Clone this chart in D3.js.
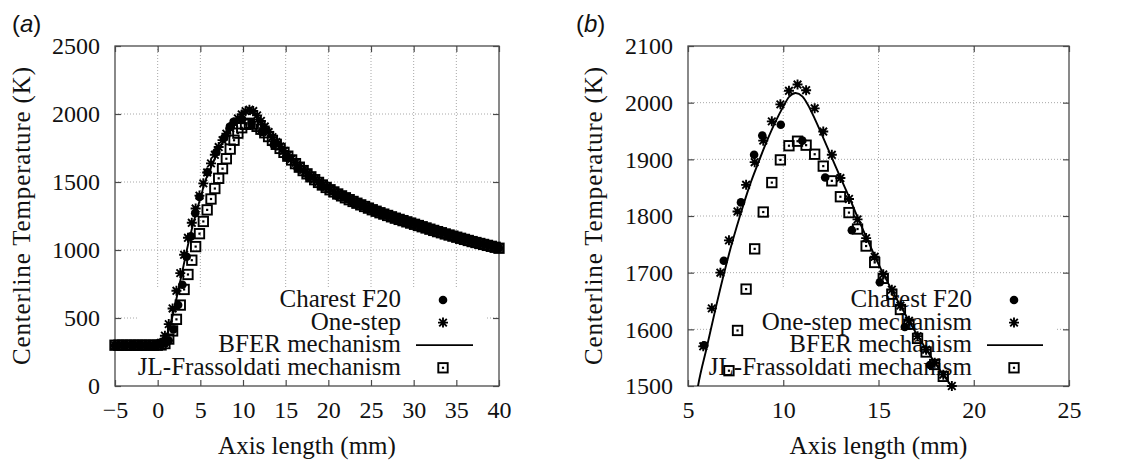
<!DOCTYPE html>
<html>
<head>
<meta charset="utf-8">
<script src="https://cdn.jsdelivr.net/npm/d3@7"></script>
<style>
    body { margin: 0; background: #fff; }
    svg { display: block; }
    text { font-family: "Liberation Serif", "DejaVu Serif", serif; fill: #111; }
</style>
</head>
<body>
<svg id="chart" width="1124" height="464"></svg>
<script>
/************
** data
*************/
// shared axial grid of the one-step and JL-Frassoldati runs (mm)
var gridX = [-5, -4.55, -4.1, -3.65, -3.2, -2.75, -2.3, -1.85, -1.4, -0.95,
    -0.5, -0.05, 0.4, 0.85, 1.3, 1.75, 2.2, 2.65, 3.1, 3.55,
    4.0, 4.45, 4.9, 5.35, 5.8, 6.25, 6.7, 7.15, 7.6, 8.05,
    8.5, 8.95, 9.4, 9.85, 10.3, 10.75, 11.2, 11.65, 12.1, 12.55,
    13.0, 13.45, 13.9, 14.35, 14.8, 15.25, 15.7, 16.15, 16.6, 17.05,
    17.5, 17.95, 18.4, 18.85, 19.3, 19.75, 20.2, 20.65, 21.1, 21.55,
    22.0, 22.45, 22.9, 23.35, 23.8, 24.25, 24.7, 25.15, 25.6, 26.05,
    26.5, 26.95, 27.4, 27.85, 28.3, 28.75, 29.2, 29.65, 30.1, 30.55,
    31.0, 31.45, 31.9, 32.35, 32.8, 33.25, 33.7, 34.15, 34.6, 35.05,
    35.5, 35.95, 36.4, 36.85, 37.3, 37.75, 38.2, 38.65, 39.1, 39.55, 40.0];

var oneStepT = [300, 300, 300, 300, 300, 300, 300, 300, 300, 300,
    300, 302, 318, 370, 455, 570, 700, 830, 965, 1090,
    1200, 1305, 1400, 1490, 1570, 1637, 1700, 1757, 1808, 1855,
    1895, 1933, 1967, 1997, 2021, 2032, 2022, 1990, 1949, 1908,
    1867, 1830, 1794, 1761, 1728, 1697, 1670, 1642, 1615, 1588,
    1564, 1541, 1520, 1500, 1481, 1463, 1446, 1431, 1416, 1402,
    1388, 1374, 1361, 1348, 1335, 1323, 1311, 1299, 1288, 1277,
    1267, 1257, 1247, 1237, 1228, 1219, 1210, 1201, 1192, 1183,
    1174, 1165, 1156, 1147, 1138, 1129, 1120, 1112, 1104, 1096,
    1088, 1080, 1072, 1064, 1057, 1050, 1043, 1036, 1029, 1022, 1015];

var jlT = [300, 300, 300, 300, 300, 300, 300, 300, 300, 300,
    300, 300, 302, 312, 345, 405, 490, 595, 710, 820,
    925, 1025, 1120, 1210, 1295, 1375, 1452, 1527, 1598, 1671,
    1742, 1807, 1859, 1899, 1924, 1932, 1925, 1909, 1888, 1862,
    1834, 1806, 1777, 1747, 1718, 1690, 1662, 1635, 1609, 1584,
    1560, 1538, 1517, 1497, 1478, 1460, 1443, 1427, 1412, 1398,
    1384, 1370, 1357, 1344, 1332, 1320, 1308, 1296, 1285, 1274,
    1264, 1254, 1244, 1234, 1225, 1216, 1207, 1198, 1189, 1180,
    1171, 1162, 1153, 1144, 1135, 1127, 1118, 1110, 1102, 1094,
    1086, 1078, 1070, 1062, 1055, 1048, 1041, 1034, 1027, 1020, 1013];

var charestX = [-5, -4, -3, -2, -1, -0.3, 0.4, 0.9, 1.3, 1.85, 2.4, 2.9, 3.4, 3.9, 4.4, 4.9,
    5.85, 6.88, 7.78, 8.47, 8.9, 9.87, 11.0, 12.2, 13.6, 15.07, 16.38, 17.7,
    19.2, 21.0, 23.0, 25.3, 28.0, 31.0, 34.0, 37.0, 40.0];
var charestT = [300, 300, 300, 300, 300, 300, 305, 315, 335, 415, 595, 745, 950, 1100, 1270, 1390,
    1572, 1721, 1824, 1908, 1942, 1961, 1933, 1868, 1775, 1683, 1604, 1537,
    1470, 1400, 1340, 1285, 1225, 1165, 1115, 1065, 1015];

var bferX = [-5, -0.5, 0.15, 0.6, 1.05, 1.5, 1.95, 2.4, 2.85, 3.3, 3.75, 4.2, 4.65, 5.1, 5.5,
    6.0, 6.45, 6.9, 7.35, 7.8, 8.25, 8.7, 9.15, 9.6, 10.0, 10.3, 10.65, 11.0, 11.3, 11.65,
    12.1, 12.55, 13.0, 13.5, 14.0, 14.5, 15.0, 15.5, 16.0, 16.5, 17.0, 17.5, 18.0, 18.5,
    19.0, 20.0, 22.5, 25.0, 27.5, 30.0, 32.5, 35.0, 37.5, 40.0];
var bferT = [300, 300, 302, 318, 370, 455, 570, 700, 830, 965, 1090, 1200, 1305, 1400, 1495,
    1570, 1637, 1700, 1757, 1808, 1855, 1895, 1933, 1967, 1993, 2010, 2017, 2011, 1996, 1972,
    1938, 1903, 1868, 1830, 1790, 1752, 1715, 1682, 1651, 1621, 1592, 1565, 1539, 1515,
    1493, 1450, 1365, 1300, 1240, 1190, 1140, 1095, 1055, 1015];

var panelAXTicks = [-5, 0, 5, 10, 15, 20, 25, 30, 35, 40];
var panelAYTicks = [0, 500, 1000, 1500, 2000, 2500];
var panelBXTicks = [5, 10, 15, 20, 25];
var panelBYTicks = [1500, 1600, 1700, 1800, 1900, 2000, 2100];

var legendLabelsA = ["Charest F20", "One-step", "BFER mechanism", "JL-Frassoldati mechanism"];
var legendLabelsB = ["Charest F20", "One-step mechanism", "BFER mechanism", "JL-Frassoldati mechanism"];

/************
** layout
*************/
var serifFont = "'Liberation Serif', 'DejaVu Serif', serif";
var plotTop = 46, plotBottom = 386;
var borderColor = "#4a4a4a";
var gridColor = "#a8a8a8";

var panels = [
    { tag: "a", left: 115, right: 499, xDomain: [-5, 40], yDomain: [0, 2500],
      xTicks: panelAXTicks, yTicks: panelAYTicks, legend: legendLabelsA,
      tagX: 12, yTitleX: 30, legendRight: 401, symX: 443, lineX: [416, 473], keyBox: [138, 287, 485, 386] },
    { tag: "b", left: 688, right: 1069, xDomain: [5, 25], yDomain: [1500, 2100],
      xTicks: panelBXTicks, yTicks: panelBYTicks, legend: legendLabelsB,
      tagX: 576, yTitleX: 602, legendRight: 972, symX: 1014, lineX: [987, 1043], keyBox: [711, 287, 1055, 386] }
];

var svg = d3.select("#chart");
svg.append("rect").attr("width", 1124).attr("height", 464).attr("fill", "#fff");

/************
** markers
*************/
function starPath(cx, cy) {
    var a = 5, b = 3.8;
    return "M" + (cx - a) + "," + cy + "H" + (cx + a) +
        "M" + cx + "," + (cy - a) + "V" + (cy + a) +
        "M" + (cx - b) + "," + (cy - b) + "L" + (cx + b) + "," + (cy + b) +
        "M" + (cx - b) + "," + (cy + b) + "L" + (cx + b) + "," + (cy - b);
}
function drawCircle(g, cx, cy) {
    g.append("circle").attr("cx", cx).attr("cy", cy).attr("r", 4.3).attr("fill", "#000");
}
function drawStar(g, cx, cy) {
    g.append("path").attr("d", starPath(cx, cy)).attr("stroke", "#000")
        .attr("stroke-width", 1.9).attr("fill", "none");
}
function drawSquare(g, cx, cy) {
    g.append("rect").attr("x", cx - 4.7).attr("y", cy - 4.7).attr("width", 9.4).attr("height", 9.4)
        .attr("fill", "none").attr("stroke", "#000").attr("stroke-width", 1.9);
    g.append("rect").attr("x", cx - 1.1).attr("y", cy - 1.1).attr("width", 2.2).attr("height", 2.2).attr("fill", "#000");
}

/************
** panels
*************/
panels.forEach(function(p) {
    var g = svg.append("g").attr("class", "panel-" + p.tag);
    var x = d3.scaleLinear().domain(p.xDomain).range([p.left, p.right]);
    var y = d3.scaleLinear().domain(p.yDomain).range([plotBottom, plotTop]);
    var inside = function(xv, yv) {
        return xv >= p.xDomain[0] && xv <= p.xDomain[1] && yv >= p.yDomain[0] && yv <= p.yDomain[1];
    };

    // dotted grid
    g.selectAll(".vgrid").data(p.xTicks.slice(1, -1)).enter().append("line")
        .attr("x1", function(d){ return x(d); }).attr("x2", function(d){ return x(d); })
        .attr("y1", plotTop).attr("y2", plotBottom)
        .attr("stroke", gridColor).attr("stroke-width", 1).attr("stroke-dasharray", "1,2");
    g.selectAll(".hgrid").data(p.yTicks.slice(1, -1)).enter().append("line")
        .attr("x1", p.left).attr("x2", p.right)
        .attr("y1", function(d){ return y(d); }).attr("y2", function(d){ return y(d); })
        .attr("stroke", gridColor).attr("stroke-width", 1).attr("stroke-dasharray", "1,2");

    // opaque key box
    var kb = p.keyBox;
    g.append("rect").attr("x", kb[0]).attr("y", kb[1]).attr("width", kb[2] - kb[0])
        .attr("height", kb[3] - kb[1]).attr("fill", "#fff");

    // axes, ticks on all four sides
    var bottom = g.append("g").attr("transform", "translate(0," + plotBottom + ")")
        .call(d3.axisBottom(x).tickValues(p.xTicks).tickSizeInner(-6).tickSizeOuter(0).tickPadding(15));
    var left = g.append("g").attr("transform", "translate(" + p.left + ",0)")
        .call(d3.axisLeft(y).tickValues(p.yTicks).tickFormat(d3.format("d")).tickSizeInner(-6).tickSizeOuter(0).tickPadding(15));
    var top = g.append("g").attr("transform", "translate(0," + plotTop + ")")
        .call(d3.axisTop(x).tickValues(p.xTicks).tickSizeInner(-6).tickSizeOuter(0).tickFormat(""));
    var right = g.append("g").attr("transform", "translate(" + p.right + ",0)")
        .call(d3.axisRight(y).tickValues(p.yTicks).tickSizeInner(-6).tickSizeOuter(0).tickFormat(""));
    [bottom, left, top, right].forEach(function(ax) {
        ax.attr("font-family", serifFont).attr("font-size", 24);
        ax.select(".domain").remove();
        ax.selectAll(".tick line").attr("stroke", borderColor).attr("stroke-width", 1.2);
        ax.selectAll(".tick text").attr("fill", "#111");
    });
    g.append("rect").attr("x", p.left).attr("y", plotTop)
        .attr("width", p.right - p.left).attr("height", plotBottom - plotTop)
        .attr("fill", "none").attr("stroke", borderColor).attr("stroke-width", 1.3);

    // titles
    g.append("text").attr("x", (p.left + p.right) / 2).attr("y", 454)
        .attr("text-anchor", "middle").attr("font-size", 25).text("Axis length (mm)");
    g.append("text").attr("transform", "translate(" + p.yTitleX + ",216) rotate(-90)")
        .attr("text-anchor", "middle").attr("font-size", 25)
        .attr("textLength", 298).attr("lengthAdjust", "spacing")
        .text("Centerline Temperature (K)");
    var tag = g.append("text").attr("x", p.tagX).attr("y", 32).attr("font-size", 24)
        .style("font-family", "'Liberation Sans', Arial, sans-serif");
    tag.append("tspan").text("(");
    tag.append("tspan").attr("font-style", "italic").text(p.tag);
    tag.append("tspan").text(")");

    // legend
    var keyG = g.append("g");
    p.legend.forEach(function(label, i) {
        var cy = 300 + i * 22.6;
        keyG.append("text").attr("x", p.legendRight).attr("y", cy + 7)
            .attr("text-anchor", "end").attr("font-size", 25).text(label);
    });
    drawCircle(keyG, p.symX, 300);
    drawStar(keyG, p.symX, 322.6);
    keyG.append("line").attr("x1", p.lineX[0]).attr("x2", p.lineX[1])
        .attr("y1", 345.2).attr("y2", 345.2).attr("stroke", "#000").attr("stroke-width", 1.8);
    drawSquare(keyG, p.symX, 367.8);

    // data, in plotting order
    var dataG = g.append("g");
    charestX.forEach(function(xv, i) {
        if (inside(xv, charestT[i])) drawCircle(dataG, x(xv), y(charestT[i]));
    });
    gridX.forEach(function(xv, i) {
        if (inside(xv, oneStepT[i])) drawStar(dataG, x(xv), y(oneStepT[i]));
    });
    var clipId = "clip-" + p.tag;
    g.append("clipPath").attr("id", clipId).append("rect")
        .attr("x", p.left).attr("y", plotTop).attr("width", p.right - p.left).attr("height", plotBottom - plotTop);
    var bferLine = d3.line()
        .x(function(d){ return x(d[0]); })
        .y(function(d){ return y(d[1]); })
        .curve(d3.curveMonotoneX);
    dataG.append("path").datum(d3.zip(bferX, bferT))
        .attr("d", bferLine).attr("clip-path", "url(#" + clipId + ")")
        .attr("fill", "none").attr("stroke", "#000").attr("stroke-width", 1.9);
    gridX.forEach(function(xv, i) {
        if (inside(xv, jlT[i])) drawSquare(dataG, x(xv), y(jlT[i]));
    });
});
</script>
</body>
</html>
